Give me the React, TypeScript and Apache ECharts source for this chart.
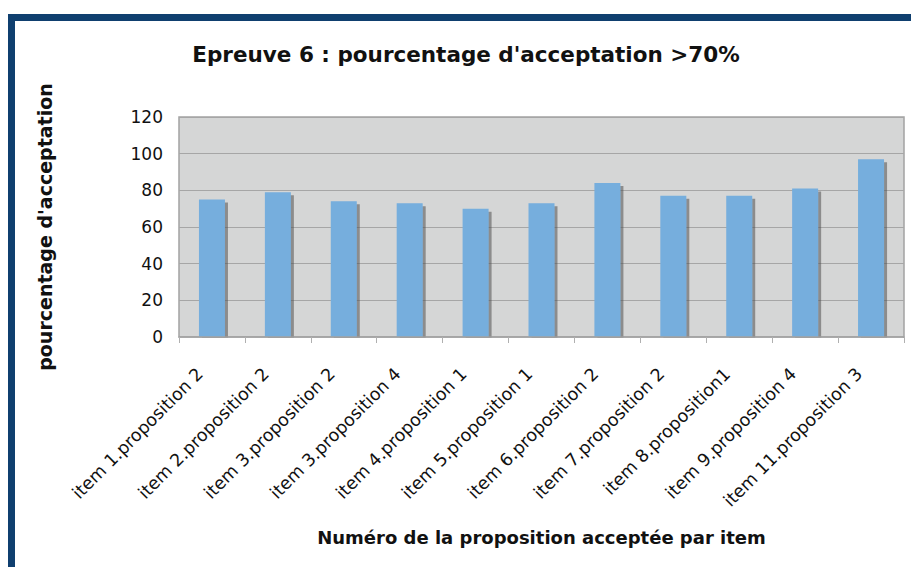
import React, { useEffect, useRef } from "react";
import * as echarts from "echarts";

const categories = [
  "item 1.proposition 2",
  "item 2.proposition 2",
  "item 3.proposition 2",
  "item 3.proposition 4",
  "item 4.proposition 1",
  "item 5.proposition 1",
  "item 6.proposition 2",
  "item 7.proposition 2",
  "item 8.proposition1",
  "item 9.proposition 4",
  "item 11.proposition 3",
];
const values = [75, 79, 74, 73, 70, 73, 84, 77, 77, 81, 97];
const titleText = "Epreuve 6 : pourcentage d'acceptation >70%";
const yName = "pourcentage d'acceptation";
const xName = "Numéro de la proposition acceptée par item";

const FONT = "DejaVu Sans, Verdana, sans-serif";

export default function App() {
  const ref = useRef<HTMLDivElement>(null);
  useEffect(() => {
    if (!ref.current) return;
    const chart = echarts.init(ref.current, null, { renderer: "svg" });
    chart.setOption({
      animation: false,
      backgroundColor: "#ffffff",
      title: {
        text: titleText,
        left: 461,
        top: 38,
        textAlign: "center",
        textStyle: { fontFamily: FONT, fontSize: 21.5, fontWeight: "bold", color: "#111" },
      },
      graphic: [
        { type: "rect", shape: { x: 8, y: 14, width: 903, height: 7 }, style: { fill: "#0f3f6f" } },
        { type: "rect", shape: { x: 8, y: 14, width: 7, height: 553 }, style: { fill: "#0f3f6f" } },
        { type: "rect", z: 3, shape: { x: 180, y: 337.8, width: 723, height: 5 }, style: { fill: "#ffffff" } },
      ],
      grid: {
        left: 179,
        top: 117,
        right: 7,
        bottom: 230,
        show: true,
        backgroundColor: "#d5d6d6",
        borderColor: "#a2a2a2",
        borderWidth: 1.5,
      },
      xAxis: {
        type: "category",
        data: categories,
        boundaryGap: true,
        z: 5,
        name: xName,
        nameLocation: "middle",
        nameGap: 191,
        nameTextStyle: { fontFamily: FONT, fontSize: 18, fontWeight: "bold", color: "#111" },
        axisLine: { show: true, lineStyle: { color: "#a2a2a2", width: 1.5 } },
        axisTick: { show: true, length: 6, lineStyle: { color: "#b0b0b0" } },
        axisLabel: {
          rotate: 45,
          interval: 0,
          margin: 22,
          padding: [0, 17, 0, 0],
          fontFamily: FONT,
          fontSize: 17.5,
          color: "#111",
        },
      },
      yAxis: {
        type: "value",
        min: 0,
        max: 120,
        interval: 20,
        name: yName,
        nameLocation: "middle",
        nameGap: 125,
        nameRotate: 90,
        nameTextStyle: { fontFamily: FONT, fontSize: 19, fontWeight: "bold", color: "#111" },
        axisLine: { show: false },
        axisTick: { show: false },
        axisLabel: { margin: 16, fontFamily: FONT, fontSize: 17, color: "#111" },
        splitLine: { show: true, lineStyle: { color: "#a6a6a6", width: 1.2 } },
      },
      series: [
        {
          type: "bar",
          data: values,
          barWidth: 26,
          itemStyle: {
            color: "#76aedd",
            shadowColor: "rgba(80,80,80,0.55)",
            shadowOffsetX: 3,
            shadowOffsetY: 3,
            shadowBlur: 1,
          },
        },
      ],
    });
    return () => chart.dispose();
  }, []);
  return (
    <div
      ref={ref}
      style={{ position: "absolute", left: 0, top: 0, width: 911, height: 567 }}
    />
  );
}
